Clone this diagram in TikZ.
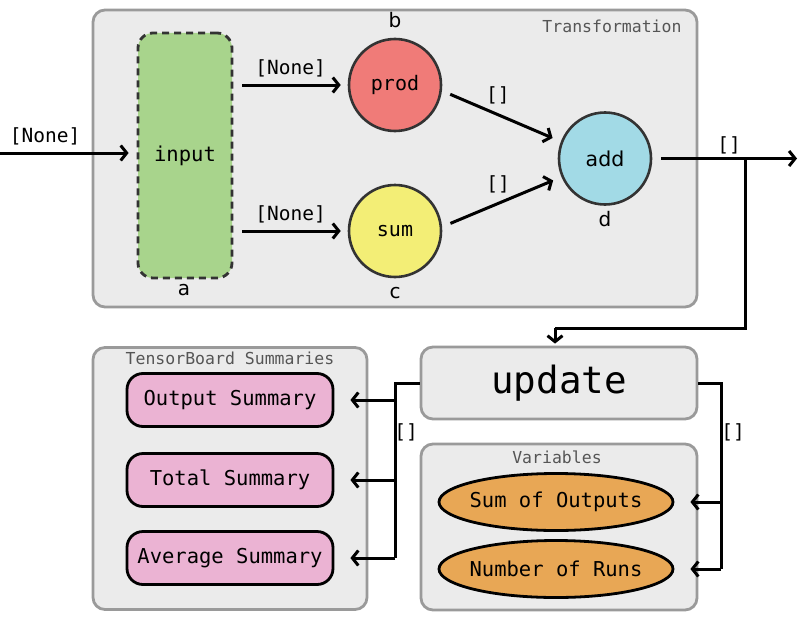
\documentclass[tikz,border=0pt]{standalone}
\usepackage{fontspec}
\setmainfont{DejaVu Sans}
\setmonofont{DejaVu Sans Mono}
\usetikzlibrary{arrows.meta,shapes.geometric}
\definecolor{boxfill}{HTML}{EBEBEB}
\definecolor{boxdraw}{HTML}{9A9A9A}
\definecolor{greenfill}{HTML}{A8D48C}
\definecolor{redfill}{HTML}{F07B78}
\definecolor{yellowfill}{HTML}{F3EE76}
\definecolor{bluefill}{HTML}{A2DAE6}
\definecolor{pinkfill}{HTML}{EBB3D3}
\definecolor{orangefill}{HTML}{E8A755}
\definecolor{nodeborder}{HTML}{333333}
\definecolor{labelgray}{HTML}{555555}
\begin{document}
\begin{tikzpicture}[x=1pt,y=-1pt,
  containerbox/.style={draw=boxdraw,fill=boxfill,line width=2.8pt,rounded corners=12pt,inner sep=0pt},
  grouplabel/.style={text=labelgray,font=\ttfamily\fontsize{16.5}{18}\selectfont,inner sep=0pt},
  opcircle/.style={circle,draw=nodeborder,line width=2.6pt,minimum size=92pt,inner sep=0pt,font=\ttfamily\fontsize{20}{22}\selectfont},
  letterlabel/.style={font=\fontsize{20}{22}\selectfont,inner sep=0pt},
  edgelabel/.style={font=\ttfamily\fontsize{19.5}{22}\selectfont,inner sep=0pt},
  summarybox/.style={draw=black,fill=pinkfill,line width=2.8pt,rounded corners=16pt,minimum width=206pt,minimum height=53pt,inner sep=0pt,font=\ttfamily\fontsize{20.5}{22}\selectfont},
  varellipse/.style={ellipse,draw=black,fill=orangefill,line width=2.8pt,minimum width=234pt,minimum height=57pt,inner xsep=-4pt,inner ysep=0pt,font=\ttfamily\fontsize{20.5}{22}\selectfont},
  connline/.style={line width=3pt},
  arrline/.style={connline,-{Straight Barb[length=6pt,width=15pt]}}
]
\useasboundingbox (0,0) rectangle (802,618);

% containers
\node[containerbox,minimum width=604pt,minimum height=297pt] (trans) at (395,158.5) {};
\node[grouplabel] (translabel) at (612,26) {Transformation};
\node[containerbox,minimum width=274pt,minimum height=262pt] (tb) at (230,478.5) {};
\node[grouplabel] (tblabel) at (230,358) {TensorBoard Summaries};
\node[containerbox,minimum width=276pt,minimum height=72pt,font=\ttfamily\fontsize{37.5}{40}\selectfont] (update) at (559,383) {update};
\node[containerbox,minimum width=276pt,minimum height=166pt] (vars) at (559,527) {};
\node[grouplabel] (varslabel) at (557,457) {Variables};

% transformation nodes
\node[draw=nodeborder,dash pattern=on 7pt off 5pt,line width=2.8pt,fill=greenfill,rounded corners=15pt,minimum width=94pt,minimum height=245pt,inner sep=0pt,font=\ttfamily\fontsize{20.5}{22}\selectfont] (input) at (185,155.5) {input};
\node[opcircle,fill=redfill] (prod) at (395,85) {prod};
\node[opcircle,fill=yellowfill] (sum) at (395,231) {sum};
\node[opcircle,fill=bluefill,font=\fontsize{20.5}{22}\selectfont] (add) at (605,158.5) {add};
\node[letterlabel] (la) at (184,290) {a};
\node[letterlabel] (lb) at (395,20) {b};
\node[letterlabel] (lc) at (395,293) {c};
\node[letterlabel] (ld) at (605,219) {d};

% summaries and variables
\node[summarybox] (os) at (230,400) {Output Summary};
\node[summarybox] (ts) at (230,480) {Total Summary};
\node[summarybox] (as) at (230,558) {Average Summary};
\node[varellipse] (so) at (556,502) {Sum of Outputs};
\node[varellipse] (nr) at (556,569) {Number of Runs};

% coordinates
\coordinate (inL) at (0,153);
\coordinate (outR) at (797,158.5);
\coordinate (br1) at (745,158.5);
\coordinate (br2) at (745,328);
\coordinate (upin) at (555,328);
\coordinate (lv) at (395,558);
\coordinate (rv) at (721,569);

% connectors
\draw[arrline,shorten >=8pt] (inL) -- (inL -| input.west) node[edgelabel,pos=0.33,above=6pt] (l1) {[None]};
\draw[arrline,shorten <=9pt,shorten >=7pt] (input.east |- prod) -- (prod.west) node[edgelabel,midway,above=6pt] (l2) {[None]};
\draw[arrline,shorten <=9pt,shorten >=7pt] (input.east |- sum) -- (sum.west) node[edgelabel,midway,above=6pt] (l3) {[None]};
\draw[arrline,shorten <=9pt,shorten >=9pt] (prod.-7) -- (add.159) node[edgelabel,pos=0.47,above=9pt] (l4) {[]};
\draw[arrline,shorten <=9pt,shorten >=9pt] (sum.5) -- (add.203) node[edgelabel,pos=0.47,above=9pt] (l5) {[]};
\draw[arrline,shorten <=9pt] (add.east) -- (outR);
\node[edgelabel] (l6) at (729,145) {[]};
\draw[connline] (br1) -- (br2) -- (upin);
\draw[arrline,shorten >=2pt] (upin) -- (upin |- update.north);

\draw[connline] (update.west) -| (lv);
\draw[arrline,shorten >=16pt] (lv |- os) -- (os.east);
\draw[arrline,shorten >=16pt] (lv |- ts) -- (ts.east);
\draw[arrline,shorten >=16pt] (lv) -- (as.east);
\node[edgelabel] (l7) at (406,432) {[]};

\draw[connline] (update.east) -| (rv);
\draw[arrline,shorten >=16pt] (rv |- so) -- (so.east);
\draw[arrline,shorten >=16pt] (rv) -- (nr.east);
\node[edgelabel] (l8) at (733,432) {[]};
\end{tikzpicture}
\end{document}
